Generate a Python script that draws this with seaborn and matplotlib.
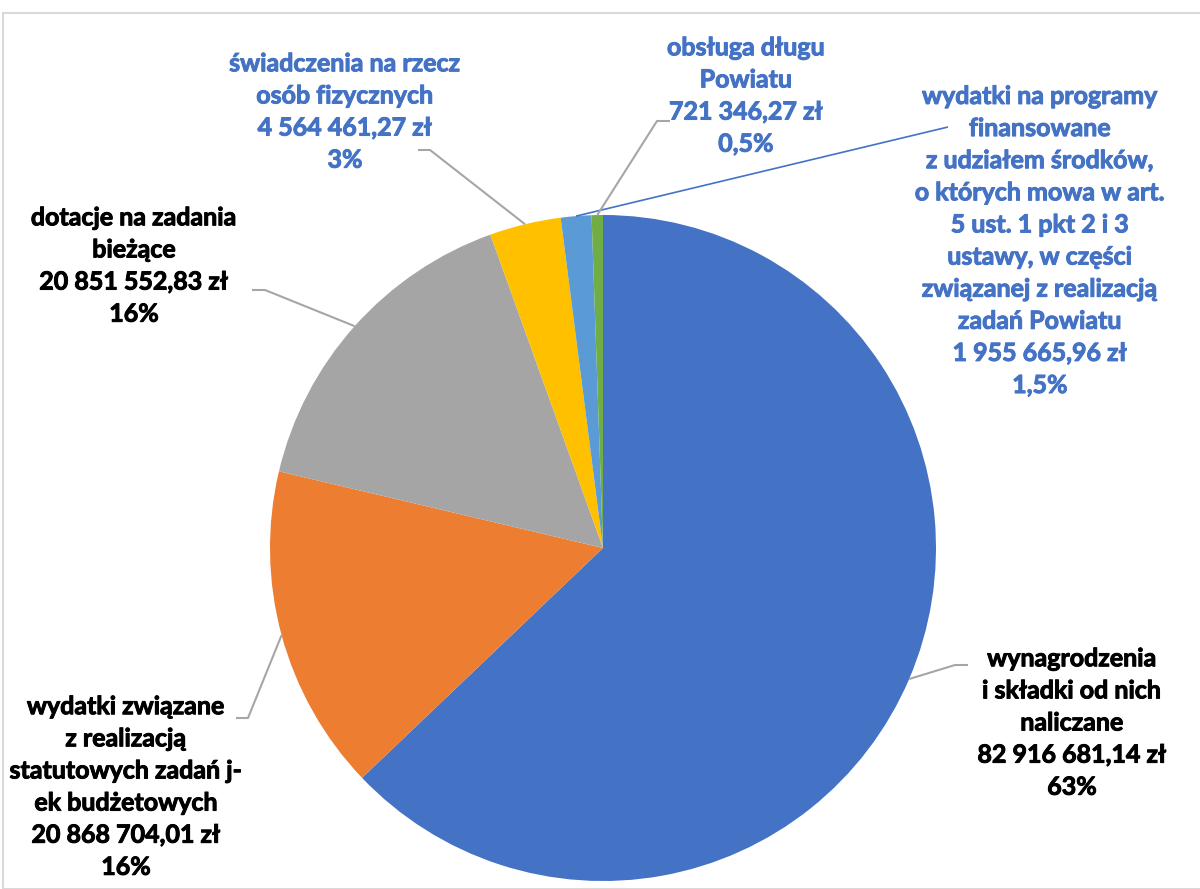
import matplotlib
matplotlib.use("Agg")
import matplotlib.pyplot as plt
import matplotlib.patheffects as pe
import numpy as np
import seaborn as sns
from matplotlib.patches import Rectangle

sns.set_theme(style="white")
plt.rcParams["font.family"] = ["Lato", "DejaVu Sans"]

# data
categories = [
    "wynagrodzenia\ni składki od nich\nnaliczane",
    "wydatki związane\nz realizacją\nstatutowych zadań j-\nek budżetowych",
    "dotacje na zadania\nbieżące",
    "świadczenia na rzecz\nosób fizycznych",
    "wydatki na programy\nfinansowane\nz udziałem środków,\no których mowa w art.\n5 ust. 1 pkt 2 i 3\nustawy, w części\nzwiązanej z realizacją\nzadań Powiatu",
    "obsługa długu\nPowiatu",
]
values = [82916681.14, 20868704.01, 20851552.83, 4564461.27, 1955665.96, 721346.27]
percents = ["63%", "16%", "16%", "3%", "1,5%", "0,5%"]
colors = ["#4472C4", "#ED7D31", "#A5A5A5", "#FFC000", "#5B9BD5", "#70AD47"]

W, H = 1200, 889
CX, CY, R = 603, 548, 333
BLUE_TXT = "#4472C4"


def fmt_zl(v):
    s = f"{v:,.2f}".replace(",", " ").replace(".", ",")
    return s + " zł"


# label layout in pixel coords: text center, elbow points, text colour
layout = [
    ((1072, 723), [(955, 665), (968, 665)], "black"),
    ((126, 787), [(248, 718), (236, 718)], "black"),
    ((134, 266), [(265, 290), (252, 290)], "black"),
    ((345, 112), [(430, 150), (418, 150)], BLUE_TXT),
    ((1040, 241), [(948, 127)], BLUE_TXT),
    ((746, 96), [(657, 121), (670, 121)], BLUE_TXT),
]

fig = plt.figure(figsize=(W / 100, H / 100), dpi=100)
ax = fig.add_axes([0, 0, 1, 1])

wedges, _ = ax.pie(values, colors=colors, startangle=90, counterclock=False,
                   center=(CX, H - CY), radius=R, frame=True,
                   wedgeprops=dict(linewidth=0))
ax.set_xlim(0, W)
ax.set_ylim(0, H)
ax.set_aspect("equal")
ax.axis("off")

fig.patches.append(Rectangle((3 / W, 0), 1.2, 1 - 13 / H, transform=fig.transFigure,
                             fill=False, edgecolor="#D9D9D9", linewidth=1.5))

for w, cat, v, pct, (tpos, elbow, tc) in zip(wedges, categories, values, percents, layout):
    mid = np.deg2rad((w.theta1 + w.theta2) / 2)
    ex, ey = CX + R * np.cos(mid), (H - CY) + R * np.sin(mid)
    xs = [ex] + [p[0] for p in elbow]
    ys = [ey] + [H - p[1] for p in elbow]
    lc = BLUE_TXT if len(elbow) == 1 else "#A6A6A6"
    ax.plot(xs, ys, color=lc, linewidth=1.2 if lc == BLUE_TXT else 1.5,
            solid_capstyle="butt")
    ax.text(tpos[0], H - tpos[1], f"{cat}\n{fmt_zl(v)}\n{pct}", ha="center", va="center",
            fontsize=18, fontweight="bold", color=tc, linespacing=1.48,
            path_effects=[pe.withStroke(linewidth=0.7, foreground=tc)])

fig.savefig("out.png", dpi=100)
